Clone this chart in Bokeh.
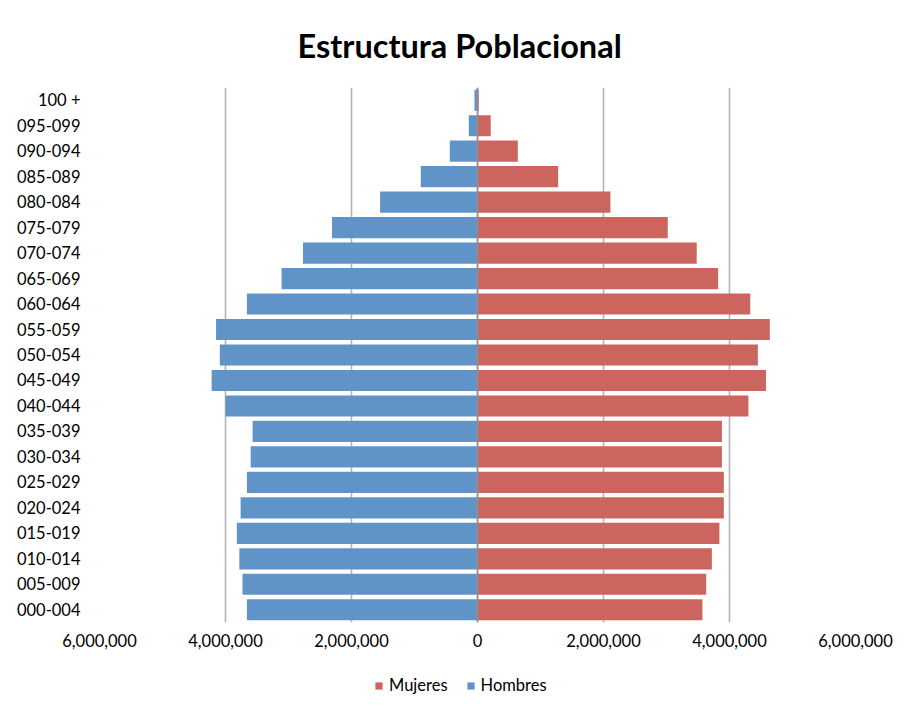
from bokeh.plotting import figure
from bokeh.embed import file_html
from bokeh.resources import INLINE
from bokeh.layouts import column
from bokeh.models import (Range1d, FactorRange, FixedTicker, CustomJSTickFormatter,
                          Span, Legend, LegendItem, ColumnDataSource)

# ---- data (bottom to top) ----
categories = ["000-004", "005-009", "010-014", "015-019", "020-024", "025-029",
              "030-034", "035-039", "040-044", "045-049", "050-054", "055-059",
              "060-064", "065-069", "070-074", "075-079", "080-084", "085-089",
              "090-094", "095-099", "100 +"]
hombres = [3660000, 3730000, 3780000, 3820000, 3760000, 3660000, 3600000, 3570000,
           4000000, 4220000, 4090000, 4150000, 3660000, 3110000, 2770000, 2310000,
           1546000, 900000, 440000, 138000, 48000]
mujeres = [3570000, 3630000, 3720000, 3840000, 3910000, 3910000, 3880000, 3880000,
           4300000, 4580000, 4450000, 4640000, 4330000, 3820000, 3480000, 3020000,
           2110000, 1280000, 640000, 210000, 20000]
x_ticks = [-6000000, -4000000, -2000000, 0, 2000000, 4000000, 6000000]

FONT = "Lato"
BLUE = "#6094C8"
RED = "#CC655E"

src = ColumnDataSource(dict(
    cat=categories,
    h_left=[-v for v in hombres],
    zero=[0] * len(categories),
    m_right=mujeres,
))

# ---------------- main chart ----------------
p = figure(frame_width=756, frame_height=535,
           x_range=Range1d(-6000000, 6000000),
           y_range=FactorRange(factors=categories),
           output_backend="svg", toolbar_location=None,
           min_border_left=99, min_border_right=49,
           min_border_top=87, min_border_bottom=40,
           title="Estructura Poblacional")

p.background_fill_color = "white"
p.border_fill_color = "white"
p.outline_line_color = None

p.title.text_font = FONT
p.title.text_font_style = "bold"
p.title.text_font_size = "32.5px"
p.title.text_color = "#000000"
p.title.align = "left"
p.title.offset = 198
p.title.standoff = 45

p.xgrid.ticker = FixedTicker(ticks=x_ticks)
p.xgrid.grid_line_color = "#B4B4B4"
p.xgrid.grid_line_width = 1.6
p.ygrid.grid_line_color = None

r_h = p.hbar(y="cat", left="h_left", right="zero", height=0.83, source=src,
             fill_color=BLUE, line_color=None)
r_m = p.hbar(y="cat", left="zero", right="m_right", height=0.83, source=src,
             fill_color=RED, line_color=None)

p.add_layout(Span(location=0, dimension="height", line_color="#8E8E8E", line_width=1.5))

xa = p.xaxis[0]
xa.ticker = FixedTicker(ticks=x_ticks)
xa.formatter = CustomJSTickFormatter(code="return Math.abs(tick).toLocaleString('en-US');")
xa.axis_line_color = None
xa.major_tick_line_color = None
xa.minor_tick_line_color = None
xa.major_tick_out = 0
xa.major_tick_in = 0
xa.minor_tick_out = 0
xa.minor_tick_in = 0
xa.major_label_standoff = 11
xa.major_label_text_font = FONT
xa.major_label_text_font_size = "16.5px"
xa.major_label_text_color = "#000000"

ya = p.yaxis[0]
ya.axis_line_color = None
ya.major_tick_line_color = None
ya.minor_tick_line_color = None
ya.major_tick_out = 0
ya.major_tick_in = 0
ya.major_label_standoff = 19
ya.major_label_text_font = FONT
ya.major_label_text_font_size = "16.5px"
ya.major_label_text_color = "#000000"

# ---------------- legend strip ----------------
p2 = figure(width=904, height=50,
            x_range=Range1d(1e9, 2e9),
            y_range=FactorRange(factors=categories),
            output_backend="svg", toolbar_location=None,
            x_axis_location=None, y_axis_location=None, min_border=0)
p2.background_fill_color = "white"
p2.border_fill_color = "white"
p2.outline_line_color = None
p2.grid.grid_line_color = None

r_h2 = p2.hbar(y="cat", left="h_left", right="zero", height=0, source=src,
               fill_color=BLUE, line_color=None)
r_m2 = p2.hbar(y="cat", left="zero", right="m_right", height=0, source=src,
               fill_color=RED, line_color=None)

legend = Legend(items=[LegendItem(label="Mujeres", renderers=[r_m2]),
                       LegendItem(label="Hombres", renderers=[r_h2])],
                orientation="horizontal", location=(275, 17),
                glyph_width=9, glyph_height=9, label_standoff=6, spacing=18,
                label_height=20,
                padding=0, margin=0, border_line_color=None,
                background_fill_alpha=0,
                label_text_font=FONT, label_text_font_size="16.5px",
                label_text_color="#000000")
p2.add_layout(legend)

layout = column(p, p2)
open("out.html", "w").write(file_html(layout, INLINE))
